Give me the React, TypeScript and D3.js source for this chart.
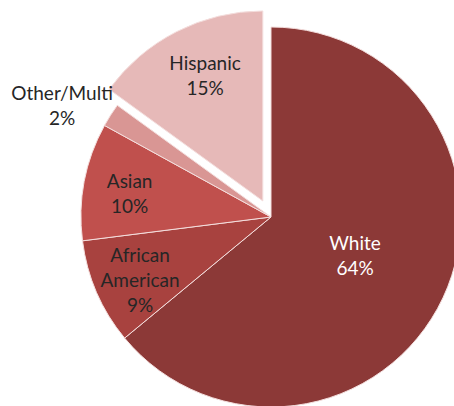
import React from "react";
import * as d3 from "d3";

const categories = ["White", "African American", "Asian", "Other/Multi", "Hispanic"];
const values = [64, 9, 10, 2, 15];
const colors = ["#8C3937", "#A8423F", "#C0504D", "#D99694", "#E6B9B8"];
const explode = [0, 0, 0, 0, 18];
const labelLines = [["White", "64%"], ["African", "American", "9%"], ["Asian", "10%"], ["Other/Multi", "2%"], ["Hispanic", "15%"]];
const labelRadius = [0.485, 0.763, 0.755, 1.25, 0.73];
const labelAngleShift = [-1, -2, -1, -4, 2.4];
const labelColors = ["#ffffff", "#262626", "#262626", "#262626", "#262626"];

export default function App() {
  const W = 454, H = 406;
  const cx = 271, cy = 217, r = 190;
  const pie = d3.pie<number>().sort(null).value((d) => d);
  const arcs = pie(values);
  const arc = d3.arc<d3.PieArcDatum<number>>().innerRadius(0).outerRadius(r);
  const lh = 25;
  return (
    <svg width={W} height={H} style={{ position: "absolute", left: 0, top: 0 }}>
      <rect width={W} height={H} fill="#fff" />
      {arcs.map((a, i) => {
        const mid = (a.startAngle + a.endAngle) / 2;
        const ox = Math.sin(mid) * explode[i];
        const oy = -Math.cos(mid) * explode[i];
        return (
          <path
            key={i}
            d={arc(a) || ""}
            transform={`translate(${cx + ox},${cy + oy})`}
            fill={colors[i]}
            stroke="#f4dedd"
            strokeWidth={1}
          />
        );
      })}
      {arcs.map((a, i) => {
        const mid = (a.startAngle + a.endAngle) / 2;
        const ox = Math.sin(mid) * explode[i];
        const oy = -Math.cos(mid) * explode[i];
        const la = mid + (labelAngleShift[i] * Math.PI) / 180;
        const lr = r * labelRadius[i];
        const x = cx + ox + Math.sin(la) * lr;
        const y = cy + oy - Math.cos(la) * lr;
        const lines = labelLines[i];
        const y0 = y - ((lines.length - 1) * lh) / 2;
        return (
          <text
            key={"t" + i}
            x={x}
            y={y0}
            textAnchor="middle"
            dominantBaseline="central"
            fontFamily="Lato, 'Open Sans', sans-serif"
            fontSize={19}
            fill={labelColors[i]}
          >
            {lines.map((l, j) => (
              <tspan key={j} x={x} y={y0 + j * lh}>
                {l}
              </tspan>
            ))}
          </text>
        );
      })}
    </svg>
  );
}
